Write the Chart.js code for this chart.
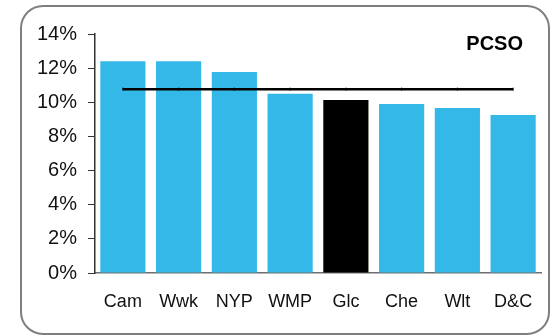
<!DOCTYPE html>
<html>
<head>
<meta charset="utf-8">
<script src="https://cdn.jsdelivr.net/npm/chart.js@4/dist/chart.umd.min.js"></script>
<style>
html,body{margin:0;padding:0;background:#fff;}
#wrap{width:553px;height:336px;position:relative;}
</style>
</head>
<body>
<div id="wrap"><canvas id="c" width="553" height="336"></canvas></div>
<script>
const categories = ['Cam','Wwk','NYP','WMP','Glc','Che','Wlt','D&C'];
const values = [12.41, 12.41, 11.77, 10.50, 10.13, 9.90, 9.67, 9.26];
const average = [10.77, 10.77, 10.77, 10.77, 10.77, 10.77, 10.77, 10.77];
const highlight = 'Glc';
const yTicks = [0, 2, 4, 6, 8, 10, 12, 14];
const chartTitle = 'PCSO';

const barColors = categories.map(c => c === highlight ? '#000000' : '#33B8E8');

const frame = {
  id: 'frame',
  afterDraw(chart) {
    const ctx = chart.ctx;
    ctx.save();
    const x = 21, y = 6, w = 528, h = 328, r = 22;
    ctx.beginPath();
    ctx.moveTo(x + r, y);
    ctx.lineTo(x + w - r, y);
    ctx.arcTo(x + w, y, x + w, y + r, r);
    ctx.lineTo(x + w, y + h - r);
    ctx.arcTo(x + w, y + h, x + w - r, y + h, r);
    ctx.lineTo(x + r, y + h);
    ctx.arcTo(x, y + h, x, y + h - r, r);
    ctx.lineTo(x, y + r);
    ctx.arcTo(x, y, x + r, y, r);
    ctx.closePath();
    ctx.lineWidth = 2;
    ctx.strokeStyle = '#7f7f7f';
    ctx.stroke();
    ctx.font = 'bold 20px "Liberation Sans", Arial, sans-serif';
    ctx.fillStyle = '#000';
    ctx.textAlign = 'right';
    ctx.textBaseline = 'middle';
    ctx.fillText(chartTitle, 523, 44);
    ctx.restore();
  }
};

new Chart(document.getElementById('c'), {
  data: {
    labels: categories,
    datasets: [
      {
        type: 'line',
        data: average,
        borderColor: '#000',
        borderWidth: 2.5,
        pointStyle: 'line',
        pointRotation: 90,
        pointRadius: 1.5,
        pointBorderColor: '#000',
        pointBorderWidth: 1,
        fill: false,
        order: 0
      },
      {
        type: 'bar',
        data: values,
        backgroundColor: barColors,
        borderWidth: 0,
        categoryPercentage: 1.0,
        barPercentage: 0.81,
        order: 1
      }
    ]
  },
  options: {
    responsive: false,
    animation: false,
    devicePixelRatio: 1,
    layout: { padding: { top: 34, right: 12, bottom: 0, left: 0 } },
    plugins: { legend: { display: false }, tooltip: { enabled: false }, title: { display: false } },
    scales: {
      x: {
        offset: true,
        grid: { display: true, drawOnChartArea: false, drawTicks: false },
        border: { display: true, color: '#6e6e6e', width: 1.5 },
        ticks: { color: '#111', padding: 18, font: { family: '"Liberation Sans", Arial, sans-serif', size: 18 } },
        afterFit(s) { s.height = 63; }
      },
      y: {
        min: 0, max: 14,
        afterBuildTicks(s) { s.ticks = yTicks.map(v => ({ value: v })); },
        grid: { display: true, drawOnChartArea: false, drawTicks: true, tickLength: 7, color: '#333' },
        border: { display: true, color: '#333', width: 1.5 },
        ticks: {
          color: '#111', padding: 11,
          font: { family: '"Liberation Sans", Arial, sans-serif', size: 20 },
          callback: v => v + '%'
        },
        afterFit(s) { s.width = 95; }
      }
    }
  },
  plugins: [frame]
});
</script>
</body>
</html>
